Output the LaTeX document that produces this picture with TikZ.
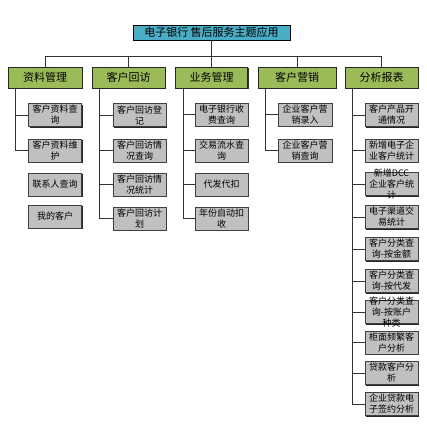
\documentclass[tikz,border=0pt]{standalone}
\usepackage{fontspec}
\newfontfamily\cjk{Noto Sans CJK SC}
\usetikzlibrary{shadows}
\definecolor{rootc}{HTML}{4BACC6}
\definecolor{greenc}{HTML}{9BBB59}
\definecolor{grayc}{HTML}{C0C0C0}
\begin{document}
\begin{tikzpicture}[x=1pt,y=-1pt,
  rootbox/.style={draw=black, line width=0.9pt, fill=rootc, minimum width=157pt, minimum height=15pt, inner sep=0pt, font=\cjk\fontsize{11}{13}\selectfont},
  lvlone/.style={draw=black!85, line width=0.9pt, fill=greenc, minimum height=21pt, inner sep=0pt,
     drop shadow={shadow xshift=1pt, shadow yshift=-1pt, fill=black!80, opacity=1},
     font=\cjk\fontsize{11}{13}\selectfont},
  leaf/.style={draw=black!75, line width=0.7pt, fill=grayc, minimum width=53pt, minimum height=23pt, inner sep=0pt,
     drop shadow={shadow xshift=1pt, shadow yshift=-1pt, fill=black!85, opacity=1}},
  lbl/.style={font=\cjk\fontsize{9}{11}\selectfont, align=center, inner sep=0pt, text=black},
  conn/.style={draw=black!80, line width=0.9pt},
]
\useasboundingbox (0,0) rectangle (427,423);

\node[rootbox] (root) at (211.5,32.5) {电子银行 售后服务主题应用};
\coordinate (bus) at (211.5,56);

\node[lvlone, minimum width=74pt] (A) at (45,77.5) {资料管理};
\node[lvlone, minimum width=73pt] (B) at (128.5,77.5) {客户回访};
\node[lvlone, minimum width=72pt] (C) at (211.5,77.5) {业务管理};
\node[lvlone, minimum width=78pt] (D) at (297,77.5) {客户营销};
\node[lvlone, minimum width=73pt] (E) at (381.5,77.5) {分析报表};

% column A
\node[leaf, label={[lbl]center:客户资料查\\询}] (a1) at (55,115) {};
\node[leaf, label={[lbl]center:客户资料维\\护}] (a2) at (55,150.5) {};
\node[leaf, label={[lbl]center:联系人查询}] (a3) at (55,184.5) {};
\node[leaf, label={[lbl]center:我的客户}] (a4) at (55,216.5) {};

% column B
\node[leaf, label={[lbl]center:客户回访登\\记}] (b1) at (139.5,115) {};
\node[leaf, label={[lbl]center:客户回访情\\况查询}] (b2) at (139.5,150.5) {};
\node[leaf, label={[lbl]center:客户回访情\\况统计}] (b3) at (139.5,184.5) {};
\node[leaf, label={[lbl]center:客户回访计\\划}] (b4) at (139.5,218.5) {};

% column C
\node[leaf, label={[lbl]center:电子银行收\\费查询}] (c1) at (221.5,114.5) {};
\node[leaf, label={[lbl]center:交易流水查\\询}] (c2) at (221.5,150.5) {};
\node[leaf, label={[lbl]center:代发代扣}] (c3) at (221.5,184.5) {};
\node[leaf, label={[lbl]center:年份自动扣\\收}] (c4) at (221.5,218.5) {};

% column D
\node[leaf, minimum width=54pt, label={[lbl]center:企业客户营\\销录入}] (d1) at (305,114.5) {};
\node[leaf, minimum width=54pt, label={[lbl]center:企业客户营\\销查询}] (d2) at (305,150.5) {};

% column E
\node[leaf, label={[lbl]center:客户产品开\\通情况}] (e1) at (391.5,115) {};
\node[leaf, label={[lbl]center:新增电子企\\业客户统计}] (e2) at (391.5,150.5) {};
\node[leaf, label={[lbl]center:新增DCC\\企业客户统\\计}] (e3) at (391.5,184) {};
\node[leaf, label={[lbl]center:电子渠道交\\易统计}] (e4) at (391.5,217) {};
\node[leaf, label={[lbl]center:客户分类查\\询-按金额}] (e5) at (391.5,249) {};
\node[leaf, label={[lbl]center:客户分类查\\询-按代发}] (e6) at (391.5,281) {};
\node[leaf, label={[lbl]center:客户分类查\\询-按账户\\种类}] (e7) at (391.5,312) {};
\node[leaf, label={[lbl]center:柜面频繁客\\户分析}] (e8) at (391.5,342.5) {};
\node[leaf, label={[lbl]center:贷款客户分\\析}] (e9) at (391.5,373) {};
\node[leaf, label={[lbl]center:企业贷款电\\子签约分析}] (e10) at (391.5,404) {};

% top connectors
\draw[conn] (root.south) -- (bus);
\draw[conn] (A.north) -- (A.north |- bus) -- (E.north |- bus) -- (E.north);
\draw[conn] (B.north) -- (B.north |- bus);
\draw[conn] (C.north) -- (C.north |- bus);
\draw[conn] (D.north) -- (D.north |- bus);

% elbow connectors
\foreach \p/\c in {A/a1,A/a2,B/b1,B/b2,B/b3,B/b4,C/c1,C/c2,C/c3,C/c4,D/d1,D/d2,
                   E/e1,E/e2,E/e3,E/e4,E/e5,E/e6,E/e7,E/e8,E/e9,E/e10}
  \draw[conn] ([xshift=8pt]\p.south west) |- (\c.west);
\end{tikzpicture}
\end{document}
